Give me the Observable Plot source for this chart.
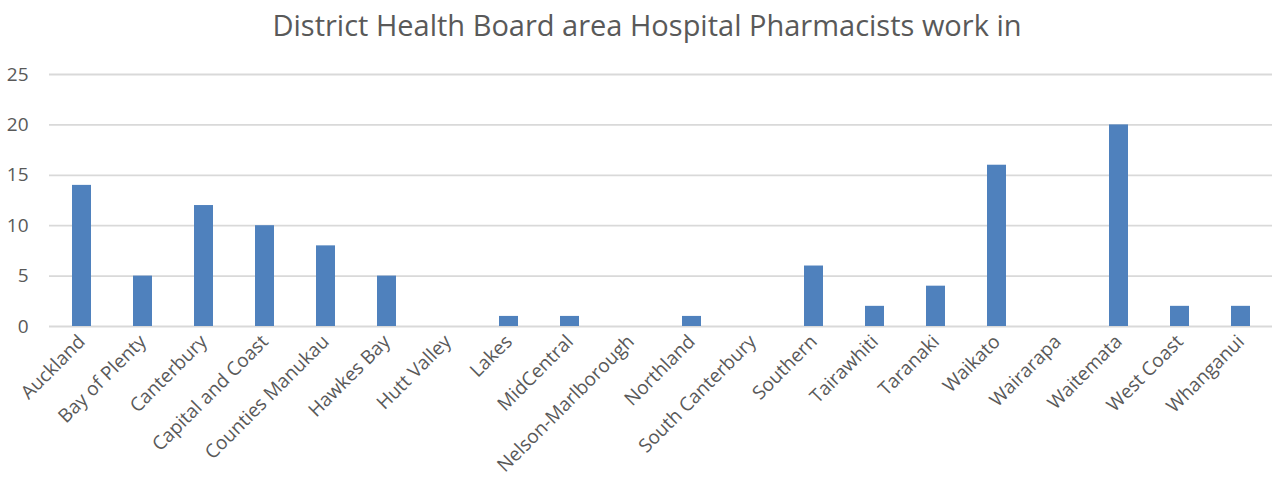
<!DOCTYPE html>
<html>
<head>
<meta charset="utf-8">
<script src="https://cdn.jsdelivr.net/npm/d3@7"></script>
<script src="https://cdn.jsdelivr.net/npm/@observablehq/plot@0.6"></script>
<style>
  html, body { margin: 0; padding: 0; background: #fff; }
  #title { height: 50px; line-height: 50px; font-family: "Open Sans", sans-serif; font-size: 29px; color: #595959; text-align: center; padding-left: 22px; white-space: nowrap; }
  svg { display: block; }
</style>
</head>
<body>
<div id="title">District Health Board area Hospital Pharmacists work in</div>
<div id="chart"></div>
<script>
const districts = ["Auckland","Bay of Plenty","Canterbury","Capital and Coast","Counties Manukau","Hawkes Bay","Hutt Valley","Lakes","MidCentral","Nelson-Marlborough","Northland","South Canterbury","Southern","Tairawhiti","Taranaki","Waikato","Wairarapa","Waitemata","West Coast","Whanganui"];
const counts = [14,5,12,10,8,5,0,1,1,0,1,0,6,2,4,16,0,20,2,2];
const yTicks = [0,5,10,15,20,25];

const data = districts.map((d, i) => ({district: d, count: counts[i]}));

const chart = Plot.plot({
  width: 1272,
  height: 431,
  marginTop: 24,
  marginBottom: 155,
  marginLeft: 49,
  marginRight: 0,
  style: { fontFamily: "'Open Sans', sans-serif", fontSize: "19px", color: "#595959", background: "#fff", overflow: "visible" },
  x: { domain: districts, paddingInner: 0.69, paddingOuter: 0.345, label: null },
  y: { domain: [0, 25], label: null },
  marks: [
    Plot.ruleY(yTicks, { stroke: "#d9d9d9", strokeWidth: 1.8 }),
    Plot.barY(data, { x: "district", y: "count", fill: "#4f81bd" }),
    Plot.axisY({ ticks: yTicks, tickSize: 0, tickPadding: 21, label: null, fill: "#595959" }),
    Plot.axisX({ tickSize: 0, tickPadding: 12, tickRotate: -45, label: null, fill: "#595959" })
  ]
});
document.getElementById("chart").appendChild(chart);
</script>
</body>
</html>
